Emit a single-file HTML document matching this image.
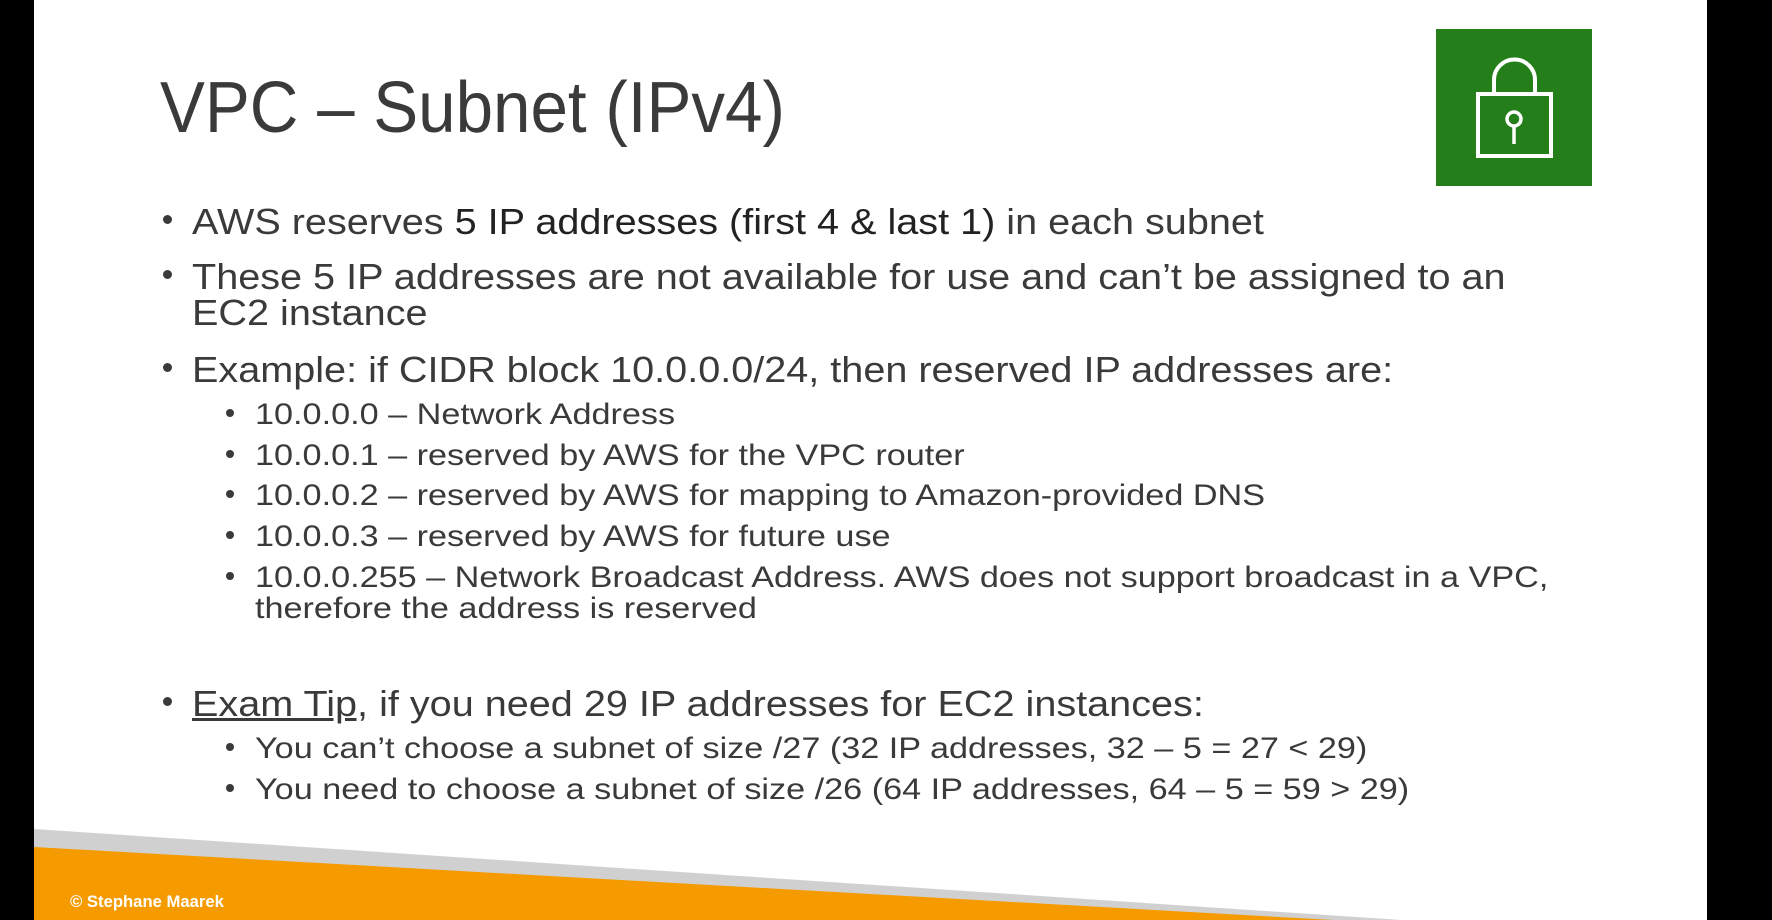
<!DOCTYPE html>
<html><head><meta charset="utf-8"><style>
html,body{margin:0;padding:0;}
body{width:1772px;height:920px;position:relative;overflow:hidden;background:#fff;font-family:"Liberation Sans",sans-serif;color:#3a3a3a;}
.t{position:absolute;white-space:nowrap;line-height:1;transform-origin:0 0;}
.m{font-size:36px;transform:scaleX(1.10);}
.n{font-size:30px;transform:scaleX(1.14);}
.b{position:absolute;width:9px;height:9px;border-radius:50%;background:#3a3a3a;}
.s{position:absolute;width:8px;height:8px;border-radius:50%;background:#3a3a3a;}
</style></head><body>
<div style="position:absolute;left:0;top:0;width:34px;height:920px;background:#000"></div>
<div style="position:absolute;left:1707px;top:0;width:65px;height:920px;background:#000"></div>
<svg style="position:absolute;left:0;top:0" width="1772" height="920">
<polygon points="34,829 1401,920 34,920" fill="#d0d0d0"/>
<polygon points="34,847 1333,920 34,920" fill="#f59b00"/>
<rect x="1436" y="29" width="156" height="157" fill="#247f1a"/>
<rect x="1478" y="94" width="73" height="62" fill="none" stroke="#fff" stroke-width="4"/>
<path d="M1494,94 V80 A20.5,20.5 0 0 1 1535,80 V94" fill="none" stroke="#fff" stroke-width="4"/>
<circle cx="1514" cy="119" r="7" fill="none" stroke="#fff" stroke-width="3.5"/>
<line x1="1514" y1="126" x2="1514" y2="144" stroke="#fff" stroke-width="3.5"/>
</svg>
<div class="t" style="left:70px;top:893px;font-size:17px;font-weight:bold;color:#fff;transform:scaleX(0.98)">© Stephane Maarek</div>

<div class="t" style="left:160px;top:72px;font-size:72px;transform:scaleX(0.935)">VPC – Subnet (IPv4)</div>

<div class="b" style="left:163px;top:215px"></div>
<div class="t m" style="left:192px;top:204px;">AWS reserves <span style="color:#222">5 IP addresses (first 4 &amp; last 1)</span> in each subnet</div>
<div class="b" style="left:163px;top:270px"></div>
<div class="t m" style="left:192px;top:259px;">These 5 IP addresses are not available for use and can’t be assigned to an</div>
<div class="t m" style="left:192px;top:295px;">EC2 instance</div>
<div class="b" style="left:163px;top:363px"></div>
<div class="t m" style="left:192px;top:352px;">Example: if CIDR block 10.0.0.0/24, then reserved IP addresses are:</div>

<div class="s" style="left:226px;top:409px"></div>
<div class="t n" style="left:255px;top:400px;">10.0.0.0 – Network Address</div>
<div class="s" style="left:226px;top:450px"></div>
<div class="t n" style="left:255px;top:441px;">10.0.0.1 – reserved by AWS for the VPC router</div>
<div class="s" style="left:226px;top:490px"></div>
<div class="t n" style="left:255px;top:481px;">10.0.0.2 – reserved by AWS for mapping to Amazon-provided DNS</div>
<div class="s" style="left:226px;top:531px"></div>
<div class="t n" style="left:255px;top:522px;">10.0.0.3 – reserved by AWS for future use</div>
<div class="s" style="left:226px;top:572px"></div>
<div class="t n" style="left:255px;top:563px;">10.0.0.255 – Network Broadcast Address. AWS does not support broadcast in a VPC,</div>
<div class="t n" style="left:255px;top:594px;">therefore the address is reserved</div>

<div class="b" style="left:163px;top:697px"></div>
<div class="t m" style="left:192px;top:686px;"><u>Exam Tip,</u> if you need 29 IP addresses for EC2 instances:</div>
<div class="s" style="left:226px;top:743px"></div>
<div class="t n" style="left:255px;top:734px;">You can’t choose a subnet of size /27 (32 IP addresses, 32 – 5 = 27 &lt; 29)</div>
<div class="s" style="left:226px;top:784px"></div>
<div class="t n" style="left:255px;top:775px;">You need to choose a subnet of size /26 (64 IP addresses, 64 – 5 = 59 &gt; 29)</div>
</body></html>
